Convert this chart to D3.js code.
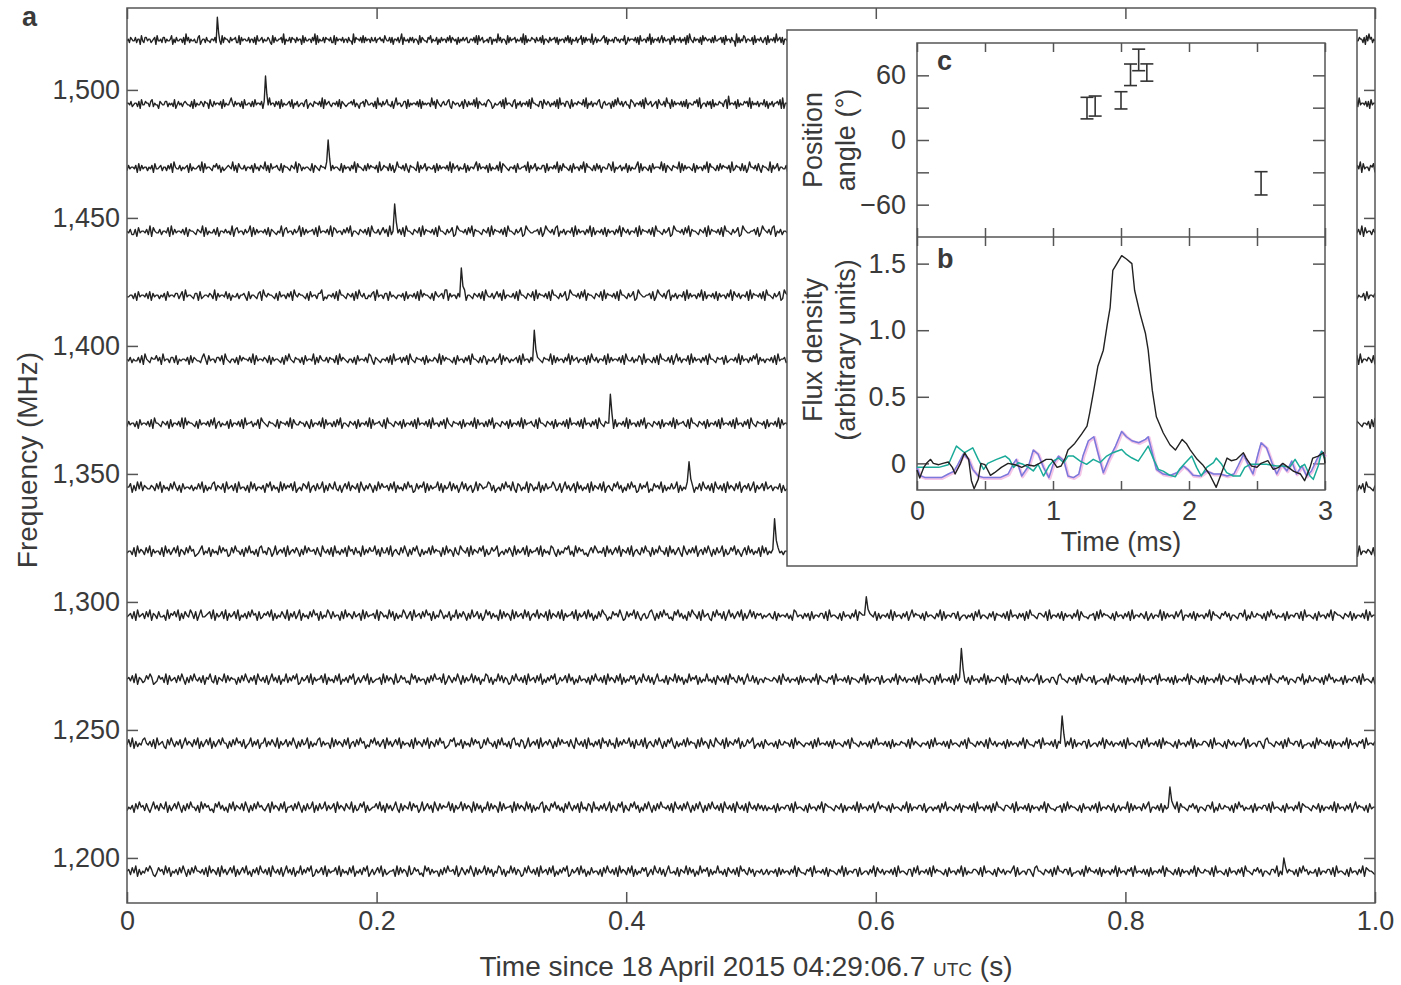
<!DOCTYPE html>
<html><head><meta charset="utf-8">
<script src="https://cdn.jsdelivr.net/npm/d3@7"></script>
<style>
body{margin:0;background:#fff}
svg{display:block}
text{font-family:"Liberation Sans",Arial,Helvetica,sans-serif;fill:#3a3a3a}
</style>
</head><body>
<svg id="chart" width="1401" height="985"></svg>
<script>
// ---------- DATA ----------
// Panel a: channel centre frequencies (MHz), pulse arrival time (s) and pulse height (trace units)
const channelFreqs = [1519.5,1494.5,1469.5,1444.5,1419.5,1394.5,1369.5,1344.5,1319.5,1294.5,1269.5,1244.5,1219.5,1194.5];
const pulseTimes   = [0.072,0.111,0.161,0.214,0.268,0.326,0.387,0.451,0.519,0.592,0.668,0.749,0.835,0.927];
const pulseHeights = [13,16,16,16,16,17,17,15,19,11,18,16,12,8];
// Per-channel noise samples (digits, centred on 4.5): the jitter of each trace
const traceNoise = [
"4536544635527436645534562744536635445725364455362846354453367245536443554635442736554364556337264554463553627445635446532736445563825446365536455273644553648273544636554633726455463553644283655463736455364463556453754463625546358264453646355427365443657354462536455364736545263546456335546372745634453662545384635542736455635446382735446553644637255436455636254553647362544635572636455382463544567362544536645355472364555463627445536482635546357364455264735546354627385436455362746545536374455636274553644183635476355446273554643562735546384563625547365445364635546273645538472654364553627544653647382546355463746255447363546274556453527463554836462755436465536274653545628364455372645536345637245546"+
"5463554627384554362745536472855436574625543664825374465536274856354462735546637284554362745536482765543654726355463827455364725846553627455436482735546637245535462748355436472655463728455364627385543665472835546372645536482754435562738465543627455364728355465372463554827364553746825546372645536482755436574625543664825374465536274856354",
"5546345536274465536735442654466354537246453565443627354465365527436455462735446853645536274455363745546263548455364627354456372546345536724543655463827456435546372654345564735425563764455362845364574436258455346627354554637264545538462754356446732654553462753645473826544536765235445637284554367254635546372855443662754653546372845536642735546554738254635546732564455263748546356442765355463728545634562754463855273645546363725544657382455364627354465536729455462735446563826454635547362546355647282554635437265446537482655436354628736455463725845635546274365547382545636455273846554362735465548263745546354726355463847265"+
"4456372845536472645535462748355463627455436472835546357462455364827354463657284554362745536374825546354627385543654726355462738455463627484536554726354463827455364635728455436274655463827354465536274855436472645536482735546362745543655728465354627385546374625543654827356455362748455463627354465537284654355462738455463627455",
"3645546273645535462744563553647285446354562735445638274554365746253456548362754463554627453654836274556437265543654827635455437265436554827364554372645536482755436374655462834655373624855463742655438264573554462736455463827456354472635546837455462735446382765435546274455638264573544662735546482637554362745536482755436374625544763825456354726354468273554362745554837265436554827364554372645536482755436374655462834655373624855463742655438264573554462736455463827456354472635546837455462735446382765435546274455638264573544662735546"+
"3655462738455463627455436472855436455362748455463627354465537284654355462738455463627455436472855436465372854635546273645536482754436572845546372655436482735546627345536482754635546372845543662748355463728465543627455364827354466537284554362754635546827345536642785543654627385546637244553628475546372645536482745536572",
"5463362745546382754463554728364554637265543654827354463725546453826745536458273645546372654354826745536458273645563728455463827645536474825543654637285446357462835544637285543654728365546372855436457238655463748265543654728365546372855436457238654455637248654637825463554728364553648273554637264553648275463554728365546372855436457238655463748265543654728365546372855436457238654455637248654637825463554728364553648273554637264553648275463"+
"5546637284554362745536482765543654726355463827455364725846553627455436482735546637245535462748355436472655463728455364627385543665472835546372645536482754435562738465543627455364728355465372463554827364553746825546372645536482755436574625543664825374465536274856354462735546637284554362745536482765543654726355463827455364",
"4455362745546372645535462745546635728455436627345546538264554736254463556427355436728546554362745536472854655436274553668243554637285543654627385463354672845536627454355462735546372846554362754563882645536474825543654637285446357462835544637285543654728365546372855436457238655463748265543654728365546372855436457238654455637248654637825463554728364553648273554637264553648275463554728365546372855436457238655463748265543654728365546372855436457238"+
"4635546273645536482754436572845546372655436482735546627345536482754635546372845543662748355463728465543627455364827354466537284554362754635546827345536642785543654627385546637244553628475546372645536482745536572845546362735546482755436372645536482754465537284554362745536472855436574625543664825374465536274856354462735546",
"5463544637285436557462845536637254554627365443685274553664728543553627465546382745546537264554362748543655362745548263754463655372846543553627455463874265435546372845563647285436554627354465382746554362745536472855436376254463558274653545637284553647265436554827364553648274563554627385463554728364554637285446354762835543637285544637258463554728364553647285543655627345546382745536475826453554637284556347265435546372845563748255436554627385"+
"5364455627384655436274553647285436557462835544637265543654827364553748265546372645536482755436574625543664825374465536274856354462735546637284554362745536482765543654726355463827455364725846553627455436482735546637245535462748355436472655463728455364627385543665472835546372645536482754435562738465543627455364728355465372",
"3645536274554637285543654627355463828465543627455463748256354462735546372845563547286543655437265546382754465536427355463827455363748255436546273554638274556437285543654627355463728455463728455364728543655462735546382745536374825543654627355463827455643728554365462735546372845546372845536472854365546273554638274553637482554365462735546382745564372855436546273554637284554637284553647285436554627355463827455363748255436546273554638274556437285543654"+
"4553627465536482754465372645535462748355463627455436472835546357462455364827354463657284554362745536374825546354627385543654726355462738455463627484536554726354463827455364635728455436274655463827354465536274855436472645536482735546362745543655728465354627385546374625543654827356455362748455463627354465537284654355462738",
"5572638483654465374826453748536274554635474826354783654728456372845536284735546275836452837465738245376482563745826375484362574836547285364752638475563748264537485623746582736455837264583746258473562483764558736245374856384276354827635482637455863472584635728463547283654738256437584625374856237465824375648263547458263548736254738546372854637284653748256473582645738"+
"4563554726345536482754465372645535462748355463627455436472835546357462455364827354463657284554362745536374825546354627385543654726355462738455463627484536554726354463827455364635728455436274655463827354465536274855436472645536482735546362745543655728465354627385546374625543654827356455362748455463627354465537284654355462738455463627455436472855436",
"4553728465374826455372846357482653748562346835472645384756237485536274845362784537624835647283564752638475563742854637284536472856374528364755836274473825643748526375842635473846552738465274386547283654758263475682453647528364573826455738264538742635476835284756342574864547284635748265473825643748552736485537284635742853647482563748526374582634758364257384635472847"+
"3546627453554637284655364726354455627384655436274553647285436557462835544637265543654827364553748265546372645536482755436574625543664825374465536274856354462735546637284554362745536482765543654726355463827455364725846553627455436482735546637245535462748355436472655463728455364627385543665472835546372645536482754435562738465543627455364728355465372",
"4563728456374826537445283657482637548637258445673826457382645738254637485627346574826354753826473582645374856273548637455273846537456283745563827645384726354863572845637485627354863547254836475263845736248573645283746528374563847256483654728365473826455738264573846253748652437564852374658374256347852637485634275846352748653728456327485637258463574826358473656354"+
"5643726455463528745536462735546637284554362745536482765543654726355463827455364725846553627455436482735546637245535462748355436472655463728455364627385543665472835546372645536482754435562738465543627455364728355465372463554827364553746825546372645536482755436574625543664825374465536274856354462735546637284554362745536482765543654726355463827455",
"5647382653475862347563827456374852637485463726584372654837465526374853647285463725846372548364758236457382645573826453748254637582463574826345562837465283475634285736455263748556382475364852736458374625487362548473652374854637284563748253647582364573846253745536274854637284653748263547572463854736258445372654837462538465726354845362754637285643746258447362553655"+
"4465372854635546273645536482754436572845546372655436482735546627345536482754635546372845543662748355463728465543627455364827354466537284554362754635546827345536642785543654627385546637244553628475546372645536482745536572845546362735546482755436372645536482754465537284554362745536472855436574625543664825374465536274856354462735546637284554362",
"4738263547854637284563274853647258465374826357482635748552637485637245836472558364753826457364852637458263547836455283746537482563748562437584635728463574826455372846537482653748562347683547264538475623748553627484536278453762483564728356475263847556374285463728453647285637452836475583627447382564374852637584263547384655273846527438654728365475826347568245362754"+
"5536274465537284654355462738455463627455436472855436455362748455463627354465537284654355462738455463627455436472855436465372854635546273645536482754436572845546372655436482735546627345536482754635546372845543662748355463728465543627455364827354466537284554362754635546827345536642785543654627385546637244553628475546372645536482745536572845546",
"3546274856374258463754826357485263748553628475634275846352748365473852637485643572846537482556374852637458263745836457284653754826347582634557483627463584273654837562483574628537465583726458374652837462548374652837455628374653847263547826437584635274853647284537628453647358264375826437584625374852637485546372854637485263748526374854637285463728546372854637463"+
"6354462735546637284554362745536482765543654726355463827455364725846553627455436482735546637245535462748355436472655463728455364627385543665472835546372645536482754435562738465543627455364728355465372463554827364553746825546372645536482755436574625543664825374465536274856354462735546637284554362745536482765543654726355463827455364725846553627455",
"5637482635475863247563847254637485263748554637284653728463574826357483526473854637285463725846372548364758236457382645573826453748254637582463574826345562837465283475634285736455263748556382475364852736458374625487362548473652374854637284563748253647582364573846253745536274854637284653748263547572463854736258445372654837462538465726354845362754637285643746255463"+
"4635546273645536482754436572845546372655436482735546627345536482754635546372845543662748355463728465543627455364827354466537284554362754635546827345536642785543654627385546637244553628475546372645536482745536572845546362735546482755436372645536482754465537284554362745536472855436574625543664825374465536274856354462735546637284554362745536482765543"
];
const freqTicks = [1200,1250,1300,1350,1400,1450,1500];
const freqTickLabels = ["1,200","1,250","1,300","1,350","1,400","1,450","1,500"];
const timeTicks = [0,0.2,0.4,0.6,0.8,1.0];
const timeTickLabels = ["0","0.2","0.4","0.6","0.8","1.0"];

// Panel c: position angle (deg) with errors, time in ms
const paTime  = [1.25,1.31,1.50,1.57,1.63,1.69,2.53];
const paValue = [29.6,31.5,36.8,60.5,74.3,62.6,-40.2];
const paError = [10.0,9.3,8.0,10.0,10.0,8.0,10.8];
const paTicks = [-60,-30,0,30,60];
const paTickLabels = {"-60":"\u221260","0":"0","60":"60"};

// Panel b: flux density profiles [time ms, value]
const fluxTotal = [[0,-0.05],[0.02,-0.11],[0.05,-0.03],[0.07,0.0],[0.10,0.03],[0.12,0.0],[0.16,-0.01],[0.19,0.0],[0.23,0.01],[0.26,-0.03],[0.28,-0.08],[0.32,0.0],[0.35,0.08],[0.38,0.03],[0.40,-0.13],[0.42,-0.19],[0.45,-0.12],[0.47,0.0],[0.50,-0.01],[0.54,-0.09],[0.57,-0.07],[0.62,-0.03],[0.67,0.0],[0.72,-0.01],[0.77,-0.03],[0.81,-0.01],[0.86,-0.02],[0.90,0.0],[0.95,0.03],[0.99,0.03],[1.03,-0.03],[1.06,-0.02],[1.09,0.04],[1.11,0.10],[1.16,0.15],[1.21,0.22],[1.25,0.28],[1.27,0.38],[1.30,0.55],[1.33,0.73],[1.37,0.85],[1.40,1.05],[1.42,1.17],[1.44,1.45],[1.47,1.50],[1.505,1.56],[1.54,1.535],[1.58,1.50],[1.60,1.30],[1.64,1.125],[1.68,0.975],[1.70,0.85],[1.73,0.55],[1.76,0.35],[1.81,0.23],[1.86,0.14],[1.90,0.10],[1.95,0.18],[1.98,0.15],[2.01,0.10],[2.06,0.03],[2.10,-0.01],[2.15,-0.08],[2.20,-0.18],[2.24,-0.07],[2.28,0.04],[2.31,0.02],[2.35,0.03],[2.40,0.08],[2.42,0.04],[2.46,-0.02],[2.50,-0.03],[2.53,0.0],[2.58,0.02],[2.62,-0.045],[2.66,-0.03],[2.69,0.0],[2.73,-0.03],[2.77,-0.06],[2.82,-0.08],[2.85,-0.13],[2.89,-0.03],[2.91,0.04],[2.95,0.055],[2.99,0.08],[3.0,0.0]];
const fluxLinear = [[0,-0.03],[0.02,-0.09],[0.06,-0.107],[0.13,-0.107],[0.18,-0.107],[0.23,-0.08],[0.27,-0.06],[0.30,-0.01],[0.34,0.07],[0.38,0.03],[0.41,-0.045],[0.45,-0.095],[0.49,-0.107],[0.55,-0.107],[0.61,-0.107],[0.67,-0.08],[0.71,0.0],[0.73,0.03],[0.77,-0.095],[0.82,-0.02],[0.855,0.10],[0.89,0.07],[0.93,-0.03],[0.97,-0.107],[1.0,-0.01],[1.04,0.055],[1.08,0.02],[1.11,-0.095],[1.15,-0.107],[1.19,-0.08],[1.22,0.055],[1.26,0.17],[1.30,0.20],[1.33,0.08],[1.37,-0.07],[1.41,0.03],[1.46,0.13],[1.505,0.24],[1.54,0.20],[1.58,0.17],[1.63,0.155],[1.68,0.18],[1.70,0.20],[1.73,0.08],[1.76,-0.045],[1.81,-0.08],[1.86,-0.09],[1.91,-0.07],[1.96,-0.02],[1.99,-0.045],[2.03,-0.09],[2.08,-0.095],[2.13,-0.057],[2.18,-0.08],[2.23,-0.08],[2.28,-0.095],[2.33,-0.08],[2.36,-0.02],[2.40,0.067],[2.44,-0.02],[2.47,-0.08],[2.51,0.08],[2.53,0.154],[2.57,0.117],[2.61,0.005],[2.645,-0.08],[2.68,-0.007],[2.72,-0.057],[2.755,0.017],[2.79,-0.08],[2.83,-0.02],[2.865,-0.095],[2.90,-0.057],[2.94,0.03],[2.975,0.09],[3.0,0.055]];
const fluxCircular = [[0,-0.03],[0.09,-0.03],[0.16,-0.03],[0.23,-0.01],[0.29,0.13],[0.35,0.08],[0.41,0.117],[0.45,0.03],[0.49,-0.045],[0.52,0.0],[0.585,0.03],[0.65,0.055],[0.68,0.03],[0.71,-0.03],[0.745,0.005],[0.78,-0.007],[0.82,-0.03],[0.855,-0.057],[0.89,-0.007],[0.93,-0.095],[0.97,-0.02],[1.0,0.017],[1.04,0.04],[1.08,0.005],[1.11,0.055],[1.15,0.055],[1.2,0.017],[1.247,-0.007],[1.296,0.03],[1.345,0.005],[1.395,0.055],[1.44,0.08],[1.505,0.104],[1.54,0.067],[1.578,0.042],[1.627,0.017],[1.66,0.067],[1.70,0.13],[1.74,0.03],[1.775,-0.045],[1.81,-0.058],[1.86,-0.09],[1.90,-0.1],[1.93,-0.045],[1.97,0.0],[2.02,0.055],[2.056,-0.03],[2.09,-0.095],[2.13,-0.03],[2.18,0.005],[2.20,0.04],[2.24,-0.007],[2.277,-0.07],[2.326,-0.095],[2.375,-0.095],[2.41,-0.03],[2.45,-0.007],[2.50,-0.007],[2.57,-0.007],[2.645,-0.02],[2.69,-0.02],[2.74,-0.03],[2.78,0.03],[2.816,-0.03],[2.85,-0.007],[2.89,-0.095],[2.914,-0.12],[2.95,-0.02],[2.975,0.09],[3.0,0.03]];
const msTicks = [0,0.5,1,1.5,2,2.5,3];
const msTickLabels = {"0":"0","1":"1","2":"2","3":"3"};
const fluxTicks = [0,0.5,1.0,1.5];
const fluxTickLabels = ["0","0.5","1.0","1.5"];

// ---------- DRAWING ----------
const svg = d3.select("#chart");
const AX = "#555";
const FS = 27;

// main panel
const M = {l:127, r:1375, t:8, b:903};
const x = d3.scaleLinear().domain([0,1]).range([M.l, M.r]);
const y = d3.scaleLinear().domain([1182.4,1532.0]).range([M.b, M.t]);
const gain = 1.75;

svg.append("clipPath").attr("id","mainclip").append("rect")
  .attr("x",M.l).attr("y",M.t).attr("width",M.r-M.l).attr("height",M.b-M.t);

const traces = svg.append("g").attr("clip-path","url(#mainclip)");
channelFreqs.forEach((f,i)=>{
  const s = traceNoise[i];
  const N = s.length;
  const vals = Array.from(s, c => (+c) - 4.5);
  const idx = Math.round(pulseTimes[i]*(N-1));
  vals[idx] = pulseHeights[i];
  if (idx+1 < N) vals[idx+1] = 0.35*pulseHeights[i];
  const line = d3.line().x((v,k)=>x(k/(N-1))).y(v=>y(f) - v*gain);
  traces.append("path").attr("d", line(vals)).attr("fill","none")
    .attr("stroke","#222").attr("stroke-width",1.4).attr("stroke-linejoin","round");
});

function styleAxis(g){
  g.select(".domain").remove();
  g.selectAll(".tick line").attr("stroke",AX).attr("stroke-width",1.5);
  g.selectAll("text").attr("font-size",FS).attr("fill","#3a3a3a").attr("font-family",'"Liberation Sans",Arial,sans-serif');
}
svg.append("g").attr("transform",`translate(0,${M.b})`)
  .call(d3.axisBottom(x).tickValues(timeTicks).tickSize(-11).tickPadding(8).tickFormat((d,i)=>timeTickLabels[i]))
  .call(styleAxis);
svg.append("g").attr("transform",`translate(0,${M.t})`)
  .call(d3.axisTop(x).tickValues(timeTicks).tickSize(-11).tickFormat(""))
  .call(styleAxis);
svg.append("g").attr("transform",`translate(${M.l},0)`)
  .call(d3.axisLeft(y).tickValues(freqTicks).tickSize(-11).tickPadding(7).tickFormat((d,i)=>freqTickLabels[i]))
  .call(styleAxis);
svg.append("g").attr("transform",`translate(${M.r},0)`)
  .call(d3.axisRight(y).tickValues(freqTicks).tickSize(-11).tickFormat(""))
  .call(styleAxis);
svg.append("rect").attr("x",M.l).attr("y",M.t).attr("width",M.r-M.l).attr("height",M.b-M.t)
  .attr("fill","none").attr("stroke",AX).attr("stroke-width",1.5);

// titles
const xt = svg.append("text").attr("x",746).attr("y",976).attr("text-anchor","middle").attr("font-size",28);
xt.append("tspan").text("Time since 18 April 2015 04:29:06.7 ");
xt.append("tspan").attr("font-size",19).text("UTC");
xt.append("tspan").text(" (s)");
svg.append("text").attr("transform","translate(37,460) rotate(-90)").attr("text-anchor","middle")
  .attr("font-size",28).text("Frequency (MHz)");
svg.append("text").attr("x",22).attr("y",26).attr("font-size",FS).attr("font-weight","bold").text("a");

// ---------- inset ----------
svg.append("rect").attr("x",787).attr("y",30).attr("width",570).attr("height",536)
  .attr("fill","#fff").attr("stroke",AX).attr("stroke-width",1.5);
const I = {l:917, r:1325, ct:43, mid:237, bb:490};
const xi = d3.scaleLinear().domain([0,3]).range([I.l, I.r]);
const yc = d3.scaleLinear().domain([-90,90]).range([I.mid, I.ct]);
const yb = d3.scaleLinear().domain([-0.2,1.7]).range([I.bb, I.mid]);

// panel c axes
svg.append("g").attr("transform",`translate(${I.l},0)`)
  .call(d3.axisLeft(yc).tickValues(paTicks).tickSize(-12).tickPadding(11).tickFormat(d=>paTickLabels[d]||""))
  .call(styleAxis);
svg.append("g").attr("transform",`translate(${I.r},0)`)
  .call(d3.axisRight(yc).tickValues(paTicks).tickSize(-12).tickFormat(""))
  .call(styleAxis);
svg.append("g").attr("transform",`translate(0,${I.ct})`)
  .call(d3.axisTop(xi).tickValues(msTicks).tickSize(-9).tickFormat(""))
  .call(styleAxis);
svg.append("g").attr("transform",`translate(0,${I.mid})`)
  .call(d3.axisBottom(xi).tickValues(msTicks).tickSize(-9).tickFormat(""))
  .call(styleAxis);
// panel b axes
svg.append("g").attr("transform",`translate(0,${I.mid})`)
  .call(d3.axisTop(xi).tickValues(msTicks).tickSize(-9).tickFormat(""))
  .call(styleAxis);
svg.append("g").attr("transform",`translate(0,${I.bb})`)
  .call(d3.axisBottom(xi).tickValues(msTicks).tickSize(-9).tickPadding(11).tickFormat(d=>msTickLabels[d]||""))
  .call(styleAxis);
svg.append("g").attr("transform",`translate(${I.l},0)`)
  .call(d3.axisLeft(yb).tickValues(fluxTicks).tickSize(-12).tickPadding(11).tickFormat((d,i)=>fluxTickLabels[i]))
  .call(styleAxis);
svg.append("g").attr("transform",`translate(${I.r},0)`)
  .call(d3.axisRight(yb).tickValues(fluxTicks).tickSize(-12).tickFormat(""))
  .call(styleAxis);
svg.append("rect").attr("x",I.l).attr("y",I.ct).attr("width",I.r-I.l).attr("height",I.bb-I.ct)
  .attr("fill","none").attr("stroke",AX).attr("stroke-width",1.5);
svg.append("line").attr("x1",I.l).attr("x2",I.r).attr("y1",I.mid).attr("y2",I.mid)
  .attr("stroke",AX).attr("stroke-width",1.5);

// error bars (panel c)
const eb = svg.append("g").attr("stroke","#333").attr("stroke-width",1.6).attr("fill","none");
const capW = 6.5;
paTime.forEach((t,i)=>{
  const cx = xi(t), y1 = yc(paValue[i]+paError[i]), y2 = yc(paValue[i]-paError[i]);
  eb.append("line").attr("x1",cx).attr("x2",cx).attr("y1",y1).attr("y2",y2);
  eb.append("line").attr("x1",cx-capW).attr("x2",cx+capW).attr("y1",y1).attr("y2",y1);
  eb.append("line").attr("x1",cx-capW).attr("x2",cx+capW).attr("y1",y2).attr("y2",y2);
});

// flux curves (panel b)
const fl = d3.line().x(d=>xi(d[0])).y(d=>yb(d[1]));
const fg = svg.append("g").attr("fill","none").attr("stroke-linejoin","round");
fg.append("path").attr("d",fl(fluxLinear)).attr("stroke","#ec9fd6").attr("stroke-width",3.2).attr("opacity",0.6)
  .attr("transform","translate(0.8,0.8)");
fg.append("path").attr("d",fl(fluxLinear)).attr("stroke","#7a78dc").attr("stroke-width",1.5);
fg.append("path").attr("d",fl(fluxCircular)).attr("stroke","#1aaa98").attr("stroke-width",1.5);
fg.append("path").attr("d",fl(fluxTotal)).attr("stroke","#222").attr("stroke-width",1.4);

// inset labels
svg.append("text").attr("x",937).attr("y",70).attr("font-size",FS).attr("font-weight","bold").text("c");
svg.append("text").attr("x",937).attr("y",268).attr("font-size",FS).attr("font-weight","bold").text("b");
svg.append("text").attr("x",xi(1.5)).attr("y",551).attr("text-anchor","middle").attr("font-size",FS).text("Time (ms)");
svg.append("text").attr("transform","translate(822,140) rotate(-90)").attr("text-anchor","middle").attr("font-size",FS).text("Position");
svg.append("text").attr("transform","translate(855,140) rotate(-90)").attr("text-anchor","middle").attr("font-size",FS).text("angle (\u00b0)");
svg.append("text").attr("transform","translate(822,350) rotate(-90)").attr("text-anchor","middle").attr("font-size",FS).text("Flux density");
svg.append("text").attr("transform","translate(855,350) rotate(-90)").attr("text-anchor","middle").attr("font-size",FS).text("(arbitrary units)");
</script>
</body></html>
